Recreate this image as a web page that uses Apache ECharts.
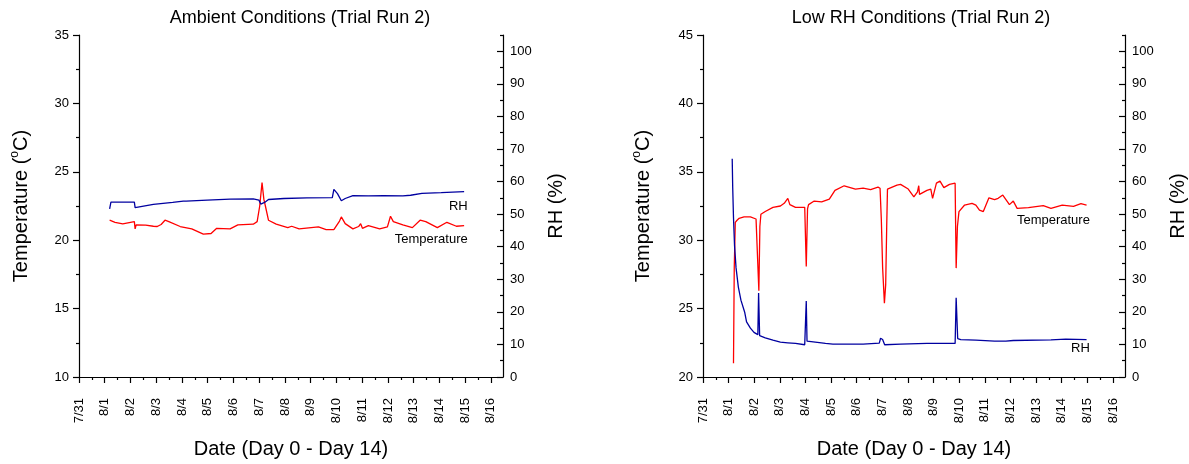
<!DOCTYPE html>
<html><head><meta charset="utf-8">
<script src="https://cdn.jsdelivr.net/npm/echarts@6/dist/echarts.min.js"></script>
<style>html,body{margin:0;padding:0;background:#fff}#c{width:1189px;height:464px}</style>
</head><body><div id="c"></div>
<script>
// Tick labels for the date axis (day index 0 = 7/31)
const dateLabels = ['7/31','8/1','8/2','8/3','8/4','8/5','8/6','8/7','8/8','8/9','8/10','8/11','8/12','8/13','8/14','8/15','8/16'];
const majorDays = [0,1,2,3,4,5,6,7,8,9,10,11,12,13,14,15,16];
const minorDays = [0.5,1.5,2.5,3.5,4.5,5.5,6.5,7.5,8.5,9.5,10.5,11.5,12.5,13.5,14.5,15.5];
const rhMajor = [0,10,20,30,40,50,60,70,80,90,100];
const rhMinor = [5,15,25,35,45,55,65,75,85,95,105];
const titles = ['Ambient Conditions (Trial Run 2)', 'Low RH Conditions (Trial Run 2)'];

// Ambient conditions: [day, value]
const ambientTemp = [
 [1.19,21.46],[1.40,21.31],[1.70,21.2],[2.00,21.31],[2.15,21.36],[2.18,20.83],[2.22,21.12],[2.59,21.1],
 [2.89,21.02],[3.04,21.0],[3.19,21.15],[3.34,21.46],[3.49,21.36],[3.93,21.0],[4.38,20.83],[4.83,20.44],
 [5.13,20.49],[5.35,20.87],[5.87,20.83],[6.17,21.12],[6.77,21.17],[6.92,21.36],[7.02,22.5],[7.11,24.22],
 [7.18,23.0],[7.24,22.5],[7.36,21.46],[7.66,21.17],[8.11,20.92],[8.26,21.02],[8.55,20.83],[9.30,20.97],
 [9.60,20.78],[9.90,20.78],[10.12,21.4],[10.19,21.70],[10.34,21.21],[10.64,20.83],[10.86,21.0],[10.94,21.21],
 [11.01,20.87],[11.24,21.07],[11.68,20.83],[11.98,20.97],[12.10,21.75],[12.21,21.36],[12.58,21.12],[12.95,20.92],
 [13.25,21.46],[13.47,21.36],[13.92,20.92],[14.29,21.31],[14.66,21.02],[14.96,21.07]
];
const ambientRH = [
 [1.19,51.6],[1.24,53.7],[1.40,53.7],[2.15,53.7],[2.18,52.0],[2.22,52.5],[2.89,53.0],[3.64,53.6],
 [4.05,54.0],[4.10,54.5],[4.16,54.0],[4.98,54.3],[5.87,54.6],[6.77,54.7],[6.99,54.3],[7.06,53.1],
 [7.21,53.6],[7.36,54.5],[7.96,54.8],[8.85,55.0],[9.84,55.1],[9.90,57.6],[10.04,56.3],[10.19,54.1],
 [10.34,54.8],[10.64,55.7],[11.24,55.6],[11.83,55.7],[12.58,55.6],[12.88,55.8],[13.32,56.4],[14.07,56.6],[14.96,56.9]
];
// Low RH conditions: [day, value]
const lowTemp = [
 [1.19,21.0],[1.22,28.0],[1.26,31.3],[1.33,31.46],[1.41,31.6],[1.60,31.7],[1.85,31.7],[2.07,31.55],
 [2.14,31.46],[2.18,26.3],[2.22,31.0],[2.26,31.9],[2.43,32.1],[2.73,32.4],[3.02,32.5],[3.17,32.7],
 [3.31,33.06],[3.39,32.6],[3.61,32.4],[3.97,32.4],[4.03,28.08],[4.08,32.3],[4.12,32.6],[4.34,32.86],
 [4.63,32.8],[4.93,33.0],[5.15,33.64],[5.51,33.98],[5.95,33.74],[6.25,33.8],[6.54,33.7],[6.83,33.88],
 [6.91,33.8],[6.96,31.5],[7.01,28.0],[7.08,25.4],[7.13,26.75],[7.17,31.0],[7.20,33.74],[7.57,34.03],
 [7.71,34.08],[8.01,33.74],[8.23,33.16],[8.37,33.54],[8.42,33.98],[8.45,33.35],[8.74,33.64],[8.89,33.74],
 [8.96,33.06],[9.11,34.17],[9.25,34.32],[9.40,33.84],[9.62,34.08],[9.84,34.17],[9.88,27.96],[9.93,31.0],
 [9.99,32.09],[10.21,32.57],[10.50,32.69],[10.65,32.57],[10.79,32.2],[10.94,32.09],[11.16,33.1],[11.38,32.96],
 [11.52,33.06],[11.70,33.3],[11.96,32.6],[12.11,32.86],[12.26,32.33],[12.70,32.38],[13.28,32.52],[13.58,32.33],
 [14.02,32.57],[14.46,32.48],[14.75,32.67],[14.97,32.57]
];
const lowRH = [
 [1.14,67.0],[1.16,58.0],[1.19,49.0],[1.23,40.5],[1.29,33.5],[1.38,27.6],[1.48,23.6],[1.63,19.8],[1.70,16.9],
 [1.85,15.0],[1.99,13.7],[2.14,13.0],[2.17,25.8],[2.21,12.7],[2.43,12.0],[2.73,11.3],[3.02,10.7],
 [3.31,10.5],[3.61,10.3],[3.97,9.9],[4.03,23.3],[4.06,11.0],[4.09,10.7],[4.78,10.3],[5.07,10.1],
 [6.25,10.1],[6.88,10.4],[6.93,11.9],[7.01,11.5],[7.09,9.9],[7.71,10.1],[8.74,10.3],[9.84,10.3],
 [9.88,24.3],[9.94,11.8],[10.06,11.5],[10.65,11.3],[11.38,11.0],[11.82,11.0],[12.11,11.2],[13.58,11.4],
 [14.16,11.6],[14.97,11.5]
];
// label anchors [day, value]
const ambientRHLabel = [15.1, 52.4];
const ambientTempLabel = [15.1, 20.07];
const lowTempLabel = [15.1, 31.45];
const lowRHLabel = [15.1, 8.8];

const FONT = 'Liberation Sans, Arial, sans-serif';
const RED = '#ff0000', BLUE = '#0000a0';
const axisLineStyle = {color:'#000', width:1.2};
const X_MAX = 16.47;

function xAxes(g){
  return [{
    type:'value', gridIndex:g, position:'bottom', min:0, max:X_MAX,
    axisLine:{show:true, onZero:false, lineStyle:axisLineStyle},
    axisTick:{show:true, customValues:majorDays, length:6, lineStyle:axisLineStyle},
    axisLabel:{show:true, customValues:majorDays, rotate:90, margin:21, fontSize:13, color:'#000', fontFamily:FONT,
      formatter:v=>dateLabels[Math.round(v)]},
    splitLine:{show:false},
    name:'Date (Day 0 - Day 14)', nameLocation:'middle', nameGap:62,
    nameTextStyle:{fontSize:20, color:'#000', fontFamily:FONT}
  },{
    type:'value', gridIndex:g, position:'bottom', min:0, max:X_MAX,
    axisLine:{show:false, onZero:false},
    axisTick:{show:true, customValues:minorDays, length:3, lineStyle:axisLineStyle},
    axisLabel:{show:false}, splitLine:{show:false}
  }];
}
function yAxes(g, tmin, tmax, gap){
  return [{
    type:'value', gridIndex:g, position:'left', min:tmin, max:tmax, interval:5,
    axisLine:{show:true, onZero:false, lineStyle:axisLineStyle},
    axisTick:{show:true, length:6, lineStyle:axisLineStyle},
    minorTick:{show:true, splitNumber:2, length:3, lineStyle:axisLineStyle},
    axisLabel:{fontSize:13, color:'#000', fontFamily:FONT, margin:10},
    splitLine:{show:false}, minorSplitLine:{show:false},
    name:'{a|Temperature (}{b|o}{a|C)}', nameLocation:'middle', nameGap:gap,
    nameTextStyle:{fontSize:20, color:'#000', fontFamily:FONT,
      rich:{a:{fontSize:20, lineHeight:24, verticalAlign:'middle', color:'#000', fontFamily:FONT},
            b:{fontSize:12, lineHeight:12, verticalAlign:'top', color:'#000', fontFamily:FONT}}}
  },{
    type:'value', gridIndex:g, position:'right', min:0, max:105,
    axisLine:{show:true, onZero:false, lineStyle:axisLineStyle},
    axisTick:{show:true, inside:true, customValues:rhMajor, length:6, lineStyle:axisLineStyle},
    axisLabel:{show:true, customValues:rhMajor, fontSize:13, color:'#000', fontFamily:FONT, margin:7},
    splitLine:{show:false},
    name:'RH (%)', nameLocation:'middle', nameGap:43,
    nameTextStyle:{fontSize:20, color:'#000', fontFamily:FONT}
  },{
    type:'value', gridIndex:g, position:'right', min:0, max:105,
    axisLine:{show:false, onZero:false},
    axisTick:{show:true, inside:true, customValues:rhMinor, length:3, lineStyle:axisLineStyle},
    axisLabel:{show:false}, splitLine:{show:false}
  }];
}
function lbl(text, coord){
  return {symbol:'circle', symbolSize:0, silent:true,
    label:{show:true, position:'left', distance:0, formatter:text, fontSize:13, color:'#000', fontFamily:FONT},
    data:[{coord:coord}]};
}
function line(data, color, xi, yi, mp){
  return {type:'line', data:data, xAxisIndex:xi, yAxisIndex:yi, showSymbol:false, symbol:'none',
    lineStyle:{color:color, width:1.3}, itemStyle:{color:color}, markPoint:mp, z:3};
}

const chart = echarts.init(document.getElementById('c'), null, {renderer:'canvas'});
chart.setOption({
  animation:false,
  backgroundColor:'#fff',
  title:[
    {text:titles[0], left:300, top:9, textAlign:'center', padding:0, textStyle:{fontSize:18, fontWeight:'normal', color:'#000', fontFamily:FONT}},
    {text:titles[1], left:921, top:9, textAlign:'center', padding:0, textStyle:{fontSize:18, fontWeight:'normal', color:'#000', fontFamily:FONT}}
  ],
  grid:[
    {left:79, top:35, width:424, height:345, containLabel:false},
    {left:703, top:35, width:423, height:345, containLabel:false}
  ],
  xAxis:[...xAxes(0), ...xAxes(1)],
  yAxis:[...yAxes(0,10,35,46), ...yAxes(1,20,45,48)],
  series:[
    line(ambientTemp, RED, 0, 0, lbl('Temperature', ambientTempLabel)),
    line(ambientRH, BLUE, 0, 1, lbl('RH', ambientRHLabel)),
    line(lowTemp, RED, 2, 3, lbl('Temperature', lowTempLabel)),
    line(lowRH, BLUE, 2, 4, lbl('RH', lowRHLabel))
  ]
});
</script>
</body></html>
